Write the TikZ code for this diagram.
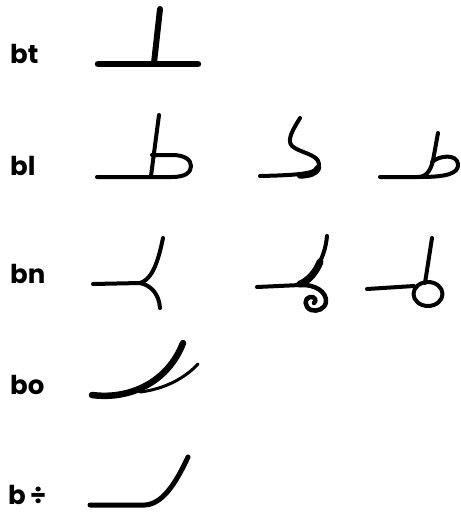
\documentclass[tikz,border=0pt]{standalone}
\usepackage{fontspec}
\newfontfamily\glossfont{Poppins}
\begin{document}
\begin{tikzpicture}[
    x=1pt, y=-1pt,
    pen/.style={line width=4pt, line cap=round, line join=round},
    heavy/.style={pen, line width=6.5pt},
    fine/.style={pen, line width=3pt},
    rowlabel/.style={anchor=base west, inner sep=0pt,
                     font=\glossfont\bfseries\fontsize{26}{26}\selectfont}
]
    \useasboundingbox (0,0) rectangle (461,512);

    % Row labels
    \node[rowlabel] (lbt) at (10,63) {bt};
    \node[rowlabel] (lbl) at (10,175) {bl};
    \node[rowlabel] (lbn) at (10,283) {bn};
    \node[rowlabel] (lbo) at (10,394) {bo};
    \node[rowlabel] (lbd) at (8,504) {b\,÷};

    % bt
    \draw[heavy] (98,64) -- (198,64);
    \draw[pen, line width=6pt] (160,9) -- (154,63);

    % bl, first form
    \draw[pen] (159,115) -- (151,176);
    \draw[pen] (97,177) -- (172,177) .. controls (186,177) and (191,172) .. (191,166)
        .. controls (191,160) and (185,155) .. (172,155) -- (152,155);

    % bl, second form
    \draw[pen] (300,118) .. controls (294,128) and (286,140) .. (292,146)
        .. controls (300,153) and (318,154) .. (319,164)
        .. controls (320,173) and (305,175) .. (260,176);
    \draw[heavy] (318,168) .. controls (316,173) and (310,175) .. (300,175.5);

    % bl, third form
    \draw[pen] (380,177) -- (418,177) .. controls (428,177) and (432,168) .. (434,155) -- (438,133);
    \draw[pen] (432,162) .. controls (440,155) and (457,154) .. (458,164)
        .. controls (459,174) and (445,177) .. (420,177);

    % bn, first form
    \draw[pen] (93,284) -- (140,283) .. controls (150,280) and (157,268) .. (163,238);
    \draw[pen] (140,283) .. controls (150,285) and (159,293) .. (160,308);

    % bn, second form
    \draw[pen] (257,287) -- (300,285);
    \draw[pen] (327,236) .. controls (325,258) and (315,275) .. (297,285);
    \draw[heavy, line width=7pt] (320,262) .. controls (315,274) and (308,281) .. (300,284);
    \draw[pen, line width=4.5pt] (300,285) .. controls (315,284) and (327,292) .. (326,302)
        .. controls (325,309) and (317,312) .. (311,310)
        .. controls (304,307) and (304,298) .. (310,297)
        .. controls (315,296) and (317,301) .. (314,303);

    % bn, third form
    \draw[pen] (367,289) -- (414,286);
    \draw[pen] (432,238) -- (425,283);
    \draw[pen] (428,294) ellipse [x radius=14.5, y radius=12];

    % bo
    \draw[heavy] (92,395) .. controls (130,400) and (168,382) .. (183,343);
    \draw[fine] (140,392) .. controls (165,389) and (185,378) .. (198,364);

    % b / division
    \draw[pen, line width=5pt] (90,505) -- (145,505) .. controls (162,504) and (175,485) .. (188,457);
\end{tikzpicture}
\end{document}
